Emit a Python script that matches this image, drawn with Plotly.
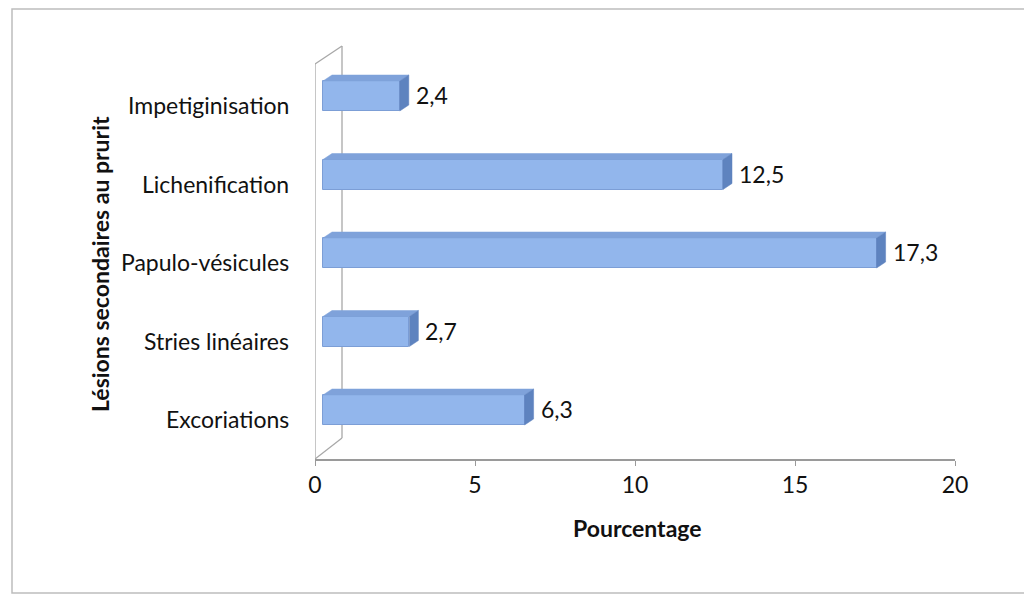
import plotly.graph_objects as go

# ---- data ----
categories = ["Excoriations", "Stries linéaires", "Papulo-vésicules", "Lichenification", "Impetiginisation"]
values = [6.3, 2.7, 17.3, 12.5, 2.4]
value_labels = ["6,3", "2,7", "17,3", "12,5", "2,4"]
x_ticks = [0, 5, 10, 15, 20]
x_title = "Pourcentage"
y_title = "Lésions secondaires au prurit"

# ---- layout geometry (reference pixels; page has an 8px body offset) ----
OFF = 8
W, H = 1032, 606
L, R = 315 - OFF, 955 - OFF      # x axis 0 -> 20
B, T = 459 - OFF, 45 - OFF       # plot bottom / top
XMAX = 20
PXX = (R - L) / XMAX             # px per x unit
PXY = 78.5                       # px per category
Y0 = -(B - (410 - OFF)) / PXY
Y1 = Y0 + (B - T) / PXY

FONT = "Lato"
FS = 23
front = "#92B6EC"
topc = "#7FA2DA"
side = "#5E83BF"
edge = "#7C9ED6"

BASE = 8 / PXX           # front face offset
DX = 9 / PXX             # depth
DY = 6 / PXY
BW = 30 / PXY            # bar thickness


def px_x(p):
    """reference pixel x -> paper coordinate"""
    return (p - OFF - L) / (R - L)


def px_y(p):
    """reference pixel y -> paper coordinate"""
    return (B - (p - OFF)) / (B - T)


ys = list(range(len(categories)))

fig = go.Figure()
fig.add_trace(go.Bar(
    y=ys, x=values, base=BASE, orientation="h", width=BW,
    marker=dict(color=front, line=dict(color=edge, width=1)),
    hoverinfo="skip", showlegend=False,
))

shapes = []
# outer border
shapes.append(dict(type="rect", xref="paper", yref="paper",
                   x0=px_x(12), x1=px_x(1027), y0=px_y(593), y1=px_y(9),
                   line=dict(color="#BDBDBD", width=1.5), layer="below"))
# 3D wall
wall = "#A8A8A8"
BACK = 27 / PXX
shapes.append(dict(type="line", xref="x", yref="paper", x0=0, x1=0,
                   y0=0, y1=px_y(64), line=dict(color=wall, width=1.3), layer="below"))
shapes.append(dict(type="line", xref="x", yref="paper", x0=BACK, x1=BACK,
                   y0=px_y(438), y1=px_y(46), line=dict(color=wall, width=1.3), layer="below"))
shapes.append(dict(type="line", xref="x", yref="paper", x0=0, x1=BACK,
                   y0=px_y(64), y1=px_y(46), line=dict(color=wall, width=1.3), layer="below"))
shapes.append(dict(type="line", xref="x", yref="paper", x0=0, x1=BACK,
                   y0=0, y1=px_y(438), line=dict(color=wall, width=1.3), layer="below"))

# 3D faces of bars
for y, v in zip(ys, values):
    x0 = BASE
    x1 = BASE + v
    yt = y + BW / 2
    yb = y - BW / 2
    top_path = f"M {x0},{yt} L {x0 + DX},{yt + DY} L {x1 + DX},{yt + DY} L {x1},{yt} Z"
    side_path = f"M {x1},{yb} L {x1},{yt} L {x1 + DX},{yt + DY} L {x1 + DX},{yb + DY} Z"
    shapes.append(dict(type="path", xref="x", yref="y", path=top_path,
                       fillcolor=topc, line=dict(color=topc, width=0.5), layer="above"))
    shapes.append(dict(type="path", xref="x", yref="y", path=side_path,
                       fillcolor=side, line=dict(color=side, width=0.5), layer="above"))

annotations = []
for y, v, lab in zip(ys, values, value_labels):
    annotations.append(dict(x=BASE + v + DX, y=y, xref="x", yref="y", text=lab,
                            showarrow=False, xanchor="left", yanchor="middle",
                            xshift=5, yshift=1,
                            font=dict(family=FONT, size=FS, color="#111111")))
for y, c in zip(ys, categories):
    annotations.append(dict(x=px_x(291), y=y, xref="paper", yref="y", text=c,
                            showarrow=False, xanchor="right", yanchor="middle", yshift=-9,
                            font=dict(family=FONT, size=FS, color="#111111")))
annotations.append(dict(x=px_x(100), y=px_y(264), xref="paper", yref="paper",
                        text=f"<b>{y_title}</b>", textangle=-90, showarrow=False,
                        xanchor="center", yanchor="middle",
                        font=dict(family=FONT, size=FS, color="#111111")))
annotations.append(dict(x=px_x(637), y=px_y(528), xref="paper", yref="paper",
                        text=f"<b>{x_title}</b>", showarrow=False,
                        xanchor="center", yanchor="middle",
                        font=dict(family=FONT, size=FS, color="#111111")))

fig.update_layout(
    width=W, height=H,
    margin=dict(l=L, r=W - R, t=T, b=H - B, pad=0),
    paper_bgcolor="white", plot_bgcolor="rgba(0,0,0,0)",
    separators=", ",
    shapes=shapes, annotations=annotations,
    bargap=0,
    xaxis=dict(range=[0, XMAX], tickvals=x_ticks, ticks="outside", ticklen=5,
               tickcolor="#9A9A9A", showline=True, linecolor="#9A9A9A", linewidth=1.5,
               showgrid=False, zeroline=False, ticklabelstandoff=0,
               tickfont=dict(family=FONT, size=FS, color="#111111")),
    yaxis=dict(range=[Y0, Y1], showticklabels=False, showgrid=False, zeroline=False,
               showline=False, ticks=""),
)

fig.write_html("out.html")
